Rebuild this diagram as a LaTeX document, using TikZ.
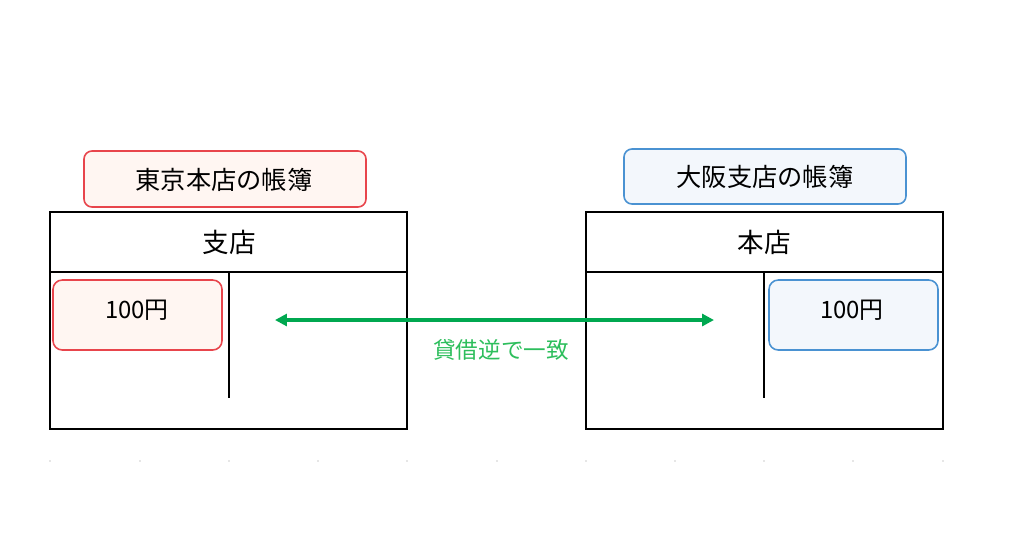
\documentclass[tikz,border=0pt]{standalone}
\usepackage{fontspec}
\setmainfont{Noto Sans CJK JP}
\usetikzlibrary{arrows.meta}
\definecolor{redl}{HTML}{E8454C}
\definecolor{redf}{HTML}{FFF6F2}
\definecolor{bluel}{HTML}{4A92D2}
\definecolor{bluef}{HTML}{F3F7FC}
\definecolor{grn}{HTML}{00A850}
\definecolor{grnt}{HTML}{2DBE5C}
\begin{document}
\begin{tikzpicture}[x=0.02646cm,y=-0.02646cm,
  lbl/.style={rounded corners=6pt,line width=1.2pt},
  acct/.style={draw=black,line width=1pt},
  amt/.style={rounded corners=7pt,line width=1.2pt}]
\useasboundingbox (0,0) rectangle (1024,556);
% left
\draw[lbl,draw=redl,fill=redf] (84,151) rectangle (366,207);
\node (lt) at (224,180) {\fontsize{19}{22}\selectfont 東京本店の帳簿};
\draw[acct] (50,212) rectangle (407,429);
\draw[line width=1.6pt] (50,272) -- (407,272);
\draw[line width=1.6pt] (229,272) -- (229,398);
\node (lh) at (229,242) {\fontsize{20}{24}\selectfont 支店};
\draw[amt,draw=redl,fill=redf] (53,280) rectangle (222,350);
\node (la) at (137,310) {\fontsize{18}{21}\selectfont 100円};
% right
\draw[lbl,draw=bluel,fill=bluef] (624,149) rectangle (906,204);
\node (rt) at (765,177) {\fontsize{19}{22}\selectfont 大阪支店の帳簿};
\draw[acct] (586,212) rectangle (943,429);
\draw[line width=1.6pt] (586,272) -- (943,272);
\draw[line width=1.6pt] (764,272) -- (764,398);
\node (rh) at (764,242) {\fontsize{20}{24}\selectfont 本店};
\draw[amt,draw=bluel,fill=bluef] (769,280) rectangle (938,350);
\node (ra) at (852,310) {\fontsize{18}{21}\selectfont 100円};
% arrow
\coordinate (a1) at (275,320);
\coordinate (a2) at (714,320);
\draw[grn,line width=2.6pt,{Triangle[length=9pt,width=9pt]}-{Triangle[length=9pt,width=9pt]}] (a1) -- (a2);
\node[text=grnt] (al) at (501,350) {\fontsize{17}{20}\selectfont 貸借逆で一致};
% dots
\foreach \x in {50,140,229,318,407,497,586,675,764,853,943}
  \fill[gray!40] (\x,461) circle (0.8);
\end{tikzpicture}
\end{document}
